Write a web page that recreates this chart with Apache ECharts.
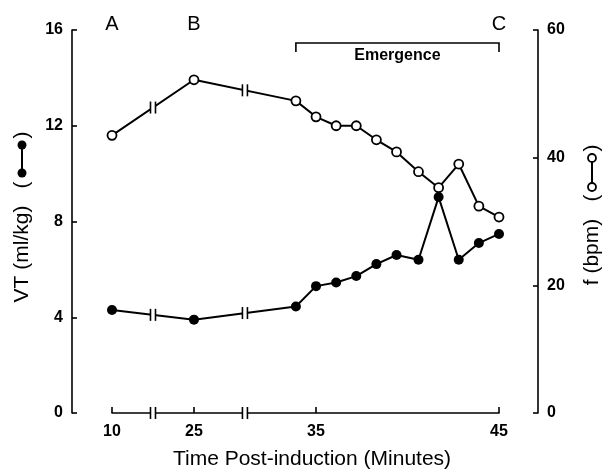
<!DOCTYPE html>
<html lang="en">
<head>
<meta charset="UTF-8">
<title>VT and f post-induction</title>
<script src="https://cdn.jsdelivr.net/npm/echarts@6/dist/echarts.min.js"></script>
<style>
  html, body { margin: 0; padding: 0; background: #fff; }
  #main { width: 603px; height: 473px; }
</style>
</head>
<body>
<div id="main"></div>
<script>
// time post-induction (minutes) of each sample
var times = [10, 25, 33.9, 35, 36.1, 37.2, 38.3, 39.4, 40.6, 41.7, 42.8, 43.9, 45];
// tidal volume, ml/kg (filled circles, left axis)
var vt = [4.3, 3.9, 4.45, 5.3, 5.45, 5.72, 6.22, 6.6, 6.4, 9.02, 6.4, 7.1, 7.48];
// frequency, bpm (open circles, right axis)
var freq = [43.5, 52.2, 48.9, 46.4, 45.0, 45.0, 42.8, 40.9, 37.8, 35.3, 39.0, 32.4, 30.7];
var xTicks = [10, 25, 35, 45];
var phaseLetters = [['A', 10], ['B', 25], ['C', 45]];

// broken x axis: samples before each cut are moved right by "shift"
var pieces = [{from: 33, shift: 0}, {from: 20, shift: 3.33}, {from: 0, shift: 13.85}];
var breakAfter = [0, 1];   // axis is cut between samples 0-1 and 1-2

function toAxis(t) {
    for (var i = 0; i < pieces.length; i++) {
        if (t >= pieces[i].from) return t + pieces[i].shift;
    }
    return t;
}
function pairs(vals) {
    return times.map(function (t, i) { return [toAxis(t), vals[i]]; });
}
function breakData(vals) {
    return breakAfter.map(function (i) {
        return [toAxis(times[i]), vals ? vals[i] : 0, toAxis(times[i + 1]), vals ? vals[i + 1] : 0];
    });
}

function renderBreak(params, api) {
    var a = api.coord([api.value(0), api.value(1)]);
    var b = api.coord([api.value(2), api.value(3)]);
    var cx = (a[0] + b[0]) / 2, cy = (a[1] + b[1]) / 2;
    var h = 6;
    return {
        type: 'group',
        children: [
            {type: 'rect', shape: {x: cx - 2, y: cy - 4, width: 4, height: 8}, style: {fill: '#fff'}},
            {type: 'line', shape: {x1: cx - 2.5, y1: cy - h, x2: cx - 2.5, y2: cy + h}, style: {stroke: '#000', lineWidth: 1.6}},
            {type: 'line', shape: {x1: cx + 2.5, y1: cy - h, x2: cx + 2.5, y2: cy + h}, style: {stroke: '#000', lineWidth: 1.6}}
        ]
    };
}

var font = 'Liberation Sans';
var tickLabel = {fontFamily: font, fontWeight: 'bold', fontSize: 16, color: '#000'};
var axisLine = {show: true, lineStyle: {color: '#000', width: 1.6}};

var chart = echarts.init(document.getElementById('main'));
var option = {
    animation: false,
    backgroundColor: '#fff',
    grid: {left: 112, right: 104, top: 30, bottom: 60},
    xAxis: {
        type: 'value',
        min: toAxis(10),
        max: 45,
        axisLine: axisLine,
        axisTick: {customValues: xTicks.map(toAxis), inside: true, length: 6, lineStyle: {color: '#000', width: 1.6}},
        axisLabel: Object.assign({
            customValues: xTicks.map(toAxis),
            margin: 11,
            formatter: function (v) {
                for (var i = 0; i < xTicks.length; i++) {
                    if (Math.abs(toAxis(xTicks[i]) - v) < 1e-6) return xTicks[i];
                }
                return '';
            }
        }, tickLabel),
        splitLine: {show: false}
    },
    yAxis: [{
        type: 'value', position: 'left', offset: 40,
        min: 0, max: 16, interval: 4,
        axisLine: axisLine,
        axisTick: {show: true, inside: true, length: 5, lineStyle: {color: '#000', width: 1.6}},
        axisLabel: Object.assign({margin: 9}, tickLabel),
        splitLine: {show: false}
    }, {
        type: 'value', position: 'right', offset: 39,
        min: 0, max: 60, interval: 20,
        axisLine: axisLine,
        axisTick: {show: true, inside: true, length: 5, lineStyle: {color: '#000', width: 1.6}},
        axisLabel: Object.assign({margin: 9}, tickLabel),
        splitLine: {show: false}
    }],
    series: [{
        name: 'VT', type: 'line', yAxisIndex: 0,
        data: pairs(vt),
        symbol: 'circle', symbolSize: 10,
        itemStyle: {color: '#000'},
        lineStyle: {color: '#000', width: 2},
        z: 3
    }, {
        name: 'f', type: 'line', yAxisIndex: 1,
        data: pairs(freq),
        symbol: 'circle', symbolSize: 9,
        itemStyle: {color: '#fff', borderColor: '#000', borderWidth: 1.8},
        lineStyle: {color: '#000', width: 2},
        z: 4
    }, {
        type: 'custom', yAxisIndex: 0, renderItem: renderBreak, data: breakData(vt), z: 6, clip: false, silent: true
    }, {
        type: 'custom', yAxisIndex: 1, renderItem: renderBreak, data: breakData(freq), z: 6, clip: false, silent: true
    }, {
        type: 'custom', yAxisIndex: 0, renderItem: renderBreak, data: breakData(null), z: 6, clip: false, silent: true
    }]
};
chart.setOption(option);

function px(t) { return chart.convertToPixel({xAxisIndex: 0}, toAxis(t)); }

var graphics = [];
phaseLetters.forEach(function (p) {
    graphics.push({type: 'text', x: px(p[1]), y: 24,
        style: {text: p[0], font: '20px "Liberation Sans"', fill: '#000', align: 'center', verticalAlign: 'middle'}});
});
var e0 = px(times[2]), e1 = px(45);
graphics.push({type: 'polyline', shape: {points: [[e0, 52], [e0, 43], [e1, 43], [e1, 52]]},
    style: {stroke: '#000', lineWidth: 1.6, fill: null}});
graphics.push({type: 'text', x: (e0 + e1) / 2, y: 56,
    style: {text: 'Emergence', font: 'bold 16px "Liberation Sans"', fill: '#000', align: 'center', verticalAlign: 'middle'}});

// axis titles, rotated, with their symbol keys
function title(x, y, txt) {
    return {type: 'text', x: x, y: y, rotation: Math.PI / 2,
        style: {text: txt, font: '21px "Liberation Sans"', fill: '#000', align: 'center', verticalAlign: 'middle'}};
}
graphics.push(title(22, 254, 'VT (ml/kg)'));
graphics.push(title(22, 185, '('));
graphics.push(title(22, 135, ')'));
graphics.push({type: 'line', shape: {x1: 22, y1: 145, x2: 22, y2: 173}, style: {stroke: '#000', lineWidth: 2}});
graphics.push({type: 'circle', shape: {cx: 22, cy: 145, r: 4.5}, style: {fill: '#000'}});
graphics.push({type: 'circle', shape: {cx: 22, cy: 173, r: 4.5}, style: {fill: '#000'}});

graphics.push(title(592, 252, 'f (bpm)'));
graphics.push(title(592, 198, '('));
graphics.push(title(592, 148, ')'));
graphics.push({type: 'line', shape: {x1: 592, y1: 158, x2: 592, y2: 187}, style: {stroke: '#000', lineWidth: 2}});
graphics.push({type: 'circle', shape: {cx: 592, cy: 158, r: 4}, style: {fill: '#fff', stroke: '#000', lineWidth: 1.8}, z: 2});
graphics.push({type: 'circle', shape: {cx: 592, cy: 187, r: 4}, style: {fill: '#fff', stroke: '#000', lineWidth: 1.8}, z: 2});

graphics.push({type: 'text', x: 312, y: 459,
    style: {text: 'Time Post-induction (Minutes)', font: '21px "Liberation Sans"', fill: '#000', align: 'center', verticalAlign: 'middle'}});

chart.setOption({graphic: graphics});
</script>
</body>
</html>
